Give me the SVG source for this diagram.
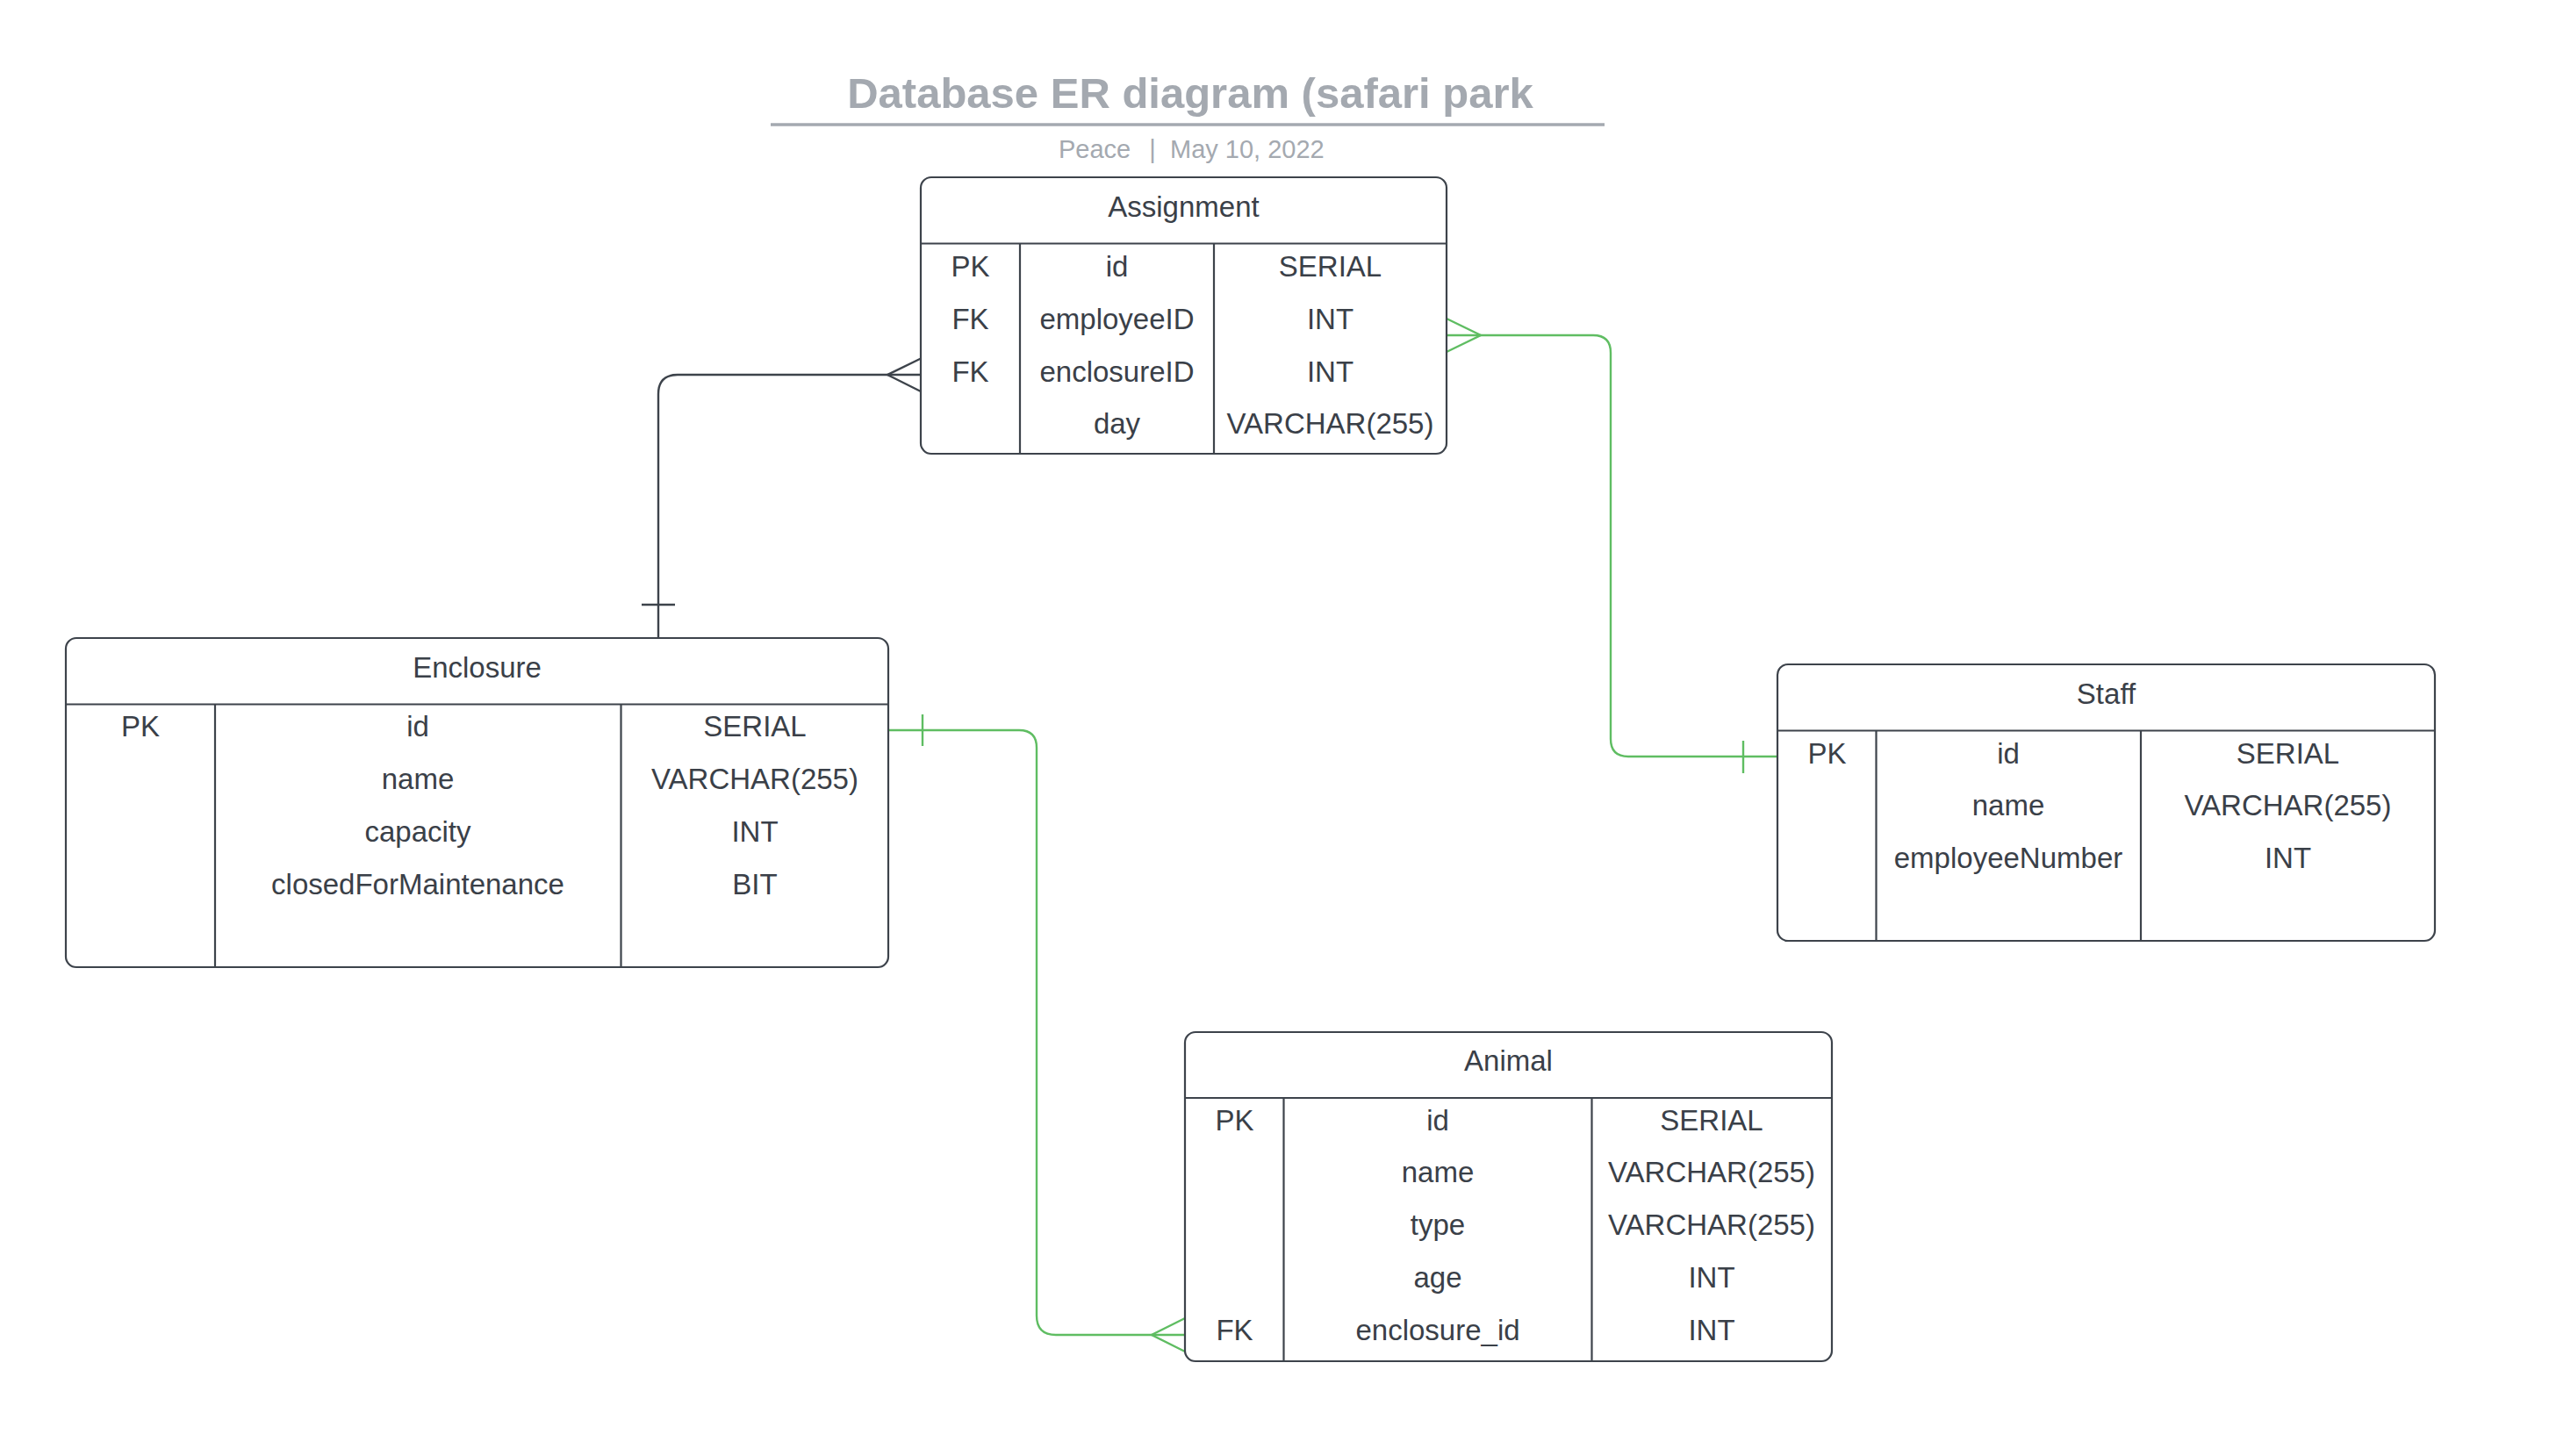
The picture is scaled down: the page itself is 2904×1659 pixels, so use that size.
<svg xmlns="http://www.w3.org/2000/svg" width="2904" height="1659" viewBox="0 0 2904 1659">
<style>
.bg{fill:#ffffff}
.box{fill:#ffffff;stroke:#3d434b;stroke-width:2.2}
.sep{stroke:#3d434b;stroke-width:2.2;fill:none}
.t{font-family:"Liberation Sans",Arial,sans-serif;font-size:33px;fill:#3a4048;text-anchor:middle}
.title{font-family:"Liberation Sans",Arial,sans-serif;font-size:49px;font-weight:bold;fill:#a4a9b0;text-anchor:middle}
.sub{font-family:"Liberation Sans",Arial,sans-serif;font-size:29px;fill:#a4a9b0}
.cb{stroke:#3d434b;stroke-width:2.4;fill:none}
.cg{stroke:#5fbd62;stroke-width:2.4;fill:none}
</style>
<rect class="bg" x="0" y="0" width="2904" height="1659"/>

<g id="title">
<text class="title" x="1356" y="123">Database ER diagram (safari park</text>
<line x1="878" y1="142" x2="1828" y2="142" stroke="#a4a9b0" stroke-width="3.5"/>
<text class="sub" x="1206" y="180">Peace</text>
<text class="sub" x="1313" y="180" text-anchor="middle">|</text>
<text class="sub" x="1333" y="180">May 10, 2022</text>
</g>

<g id="connectors">
<!-- Assignment to Enclosure (black) -->
<path class="cb" d="M1049,427 L772,427 Q750,427 750,449 L750,727"/>
<path class="cb" d="M1049,408.5 L1011,427 L1049,446"/>
<line class="cb" x1="731" y1="689" x2="769" y2="689"/>
<!-- Assignment to Staff (green) -->
<path class="cg" d="M1648,382 L1815,382 Q1835,382 1835,402 L1835,842 Q1835,862 1855,862 L2025,862"/>
<path class="cg" d="M1648,363 L1687,382 L1648,401"/>
<line class="cg" x1="1986" y1="844" x2="1986" y2="881"/>
<!-- Enclosure to Animal (green) -->
<path class="cg" d="M1012,832 L1161,832 Q1181,832 1181,852 L1181,1499 Q1181,1521 1203,1521 L1350,1521"/>
<path class="cg" d="M1350,1502 L1312,1521 L1350,1540"/>
<line class="cg" x1="1051" y1="814" x2="1051" y2="850"/>
</g>

<g id="assignment">
<rect class="box" x="1049" y="202" width="599" height="315" rx="12"/>
<line class="sep" x1="1049" y1="277.5" x2="1648" y2="277.5"/>
<line class="sep" x1="1162" y1="277.5" x2="1162" y2="517"/>
<line class="sep" x1="1383" y1="277.5" x2="1383" y2="517"/>
<text class="t" x="1348.5" y="247">Assignment</text>
<text class="t" x="1105.5" y="315">PK</text>
<text class="t" x="1272.5" y="315">id</text>
<text class="t" x="1515.5" y="315">SERIAL</text>
<text class="t" x="1105.5" y="375">FK</text>
<text class="t" x="1272.5" y="375">employeeID</text>
<text class="t" x="1515.5" y="375">INT</text>
<text class="t" x="1105.5" y="435">FK</text>
<text class="t" x="1272.5" y="435">enclosureID</text>
<text class="t" x="1515.5" y="435">INT</text>
<text class="t" x="1272.5" y="494">day</text>
<text class="t" x="1515.5" y="494">VARCHAR(255)</text>
</g>

<g id="enclosure">
<rect class="box" x="75" y="727" width="937" height="375" rx="12"/>
<line class="sep" x1="75" y1="802.5" x2="1012" y2="802.5"/>
<line class="sep" x1="245" y1="802.5" x2="245" y2="1102"/>
<line class="sep" x1="707.5" y1="802.5" x2="707.5" y2="1102"/>
<text class="t" x="543.5" y="772">Enclosure</text>
<text class="t" x="160" y="838.5">PK</text>
<text class="t" x="476" y="838.5">id</text>
<text class="t" x="860" y="838.5">SERIAL</text>
<text class="t" x="476" y="899">name</text>
<text class="t" x="860" y="899">VARCHAR(255)</text>
<text class="t" x="476" y="958.5">capacity</text>
<text class="t" x="860" y="958.5">INT</text>
<text class="t" x="476" y="1019">closedForMaintenance</text>
<text class="t" x="860" y="1019">BIT</text>
</g>

<g id="staff">
<rect class="box" x="2025" y="757" width="749" height="315" rx="12"/>
<line class="sep" x1="2025" y1="832.5" x2="2774" y2="832.5"/>
<line class="sep" x1="2137.5" y1="832.5" x2="2137.5" y2="1072"/>
<line class="sep" x1="2439" y1="832.5" x2="2439" y2="1072"/>
<text class="t" x="2399.5" y="802">Staff</text>
<text class="t" x="2081.5" y="869.5">PK</text>
<text class="t" x="2288" y="869.5">id</text>
<text class="t" x="2606.5" y="869.5">SERIAL</text>
<text class="t" x="2288" y="929">name</text>
<text class="t" x="2606.5" y="929">VARCHAR(255)</text>
<text class="t" x="2288" y="988.5">employeeNumber</text>
<text class="t" x="2606.5" y="988.5">INT</text>
</g>

<g id="animal">
<rect class="box" x="1350" y="1176" width="737" height="375" rx="12"/>
<line class="sep" x1="1350" y1="1251" x2="2087" y2="1251"/>
<line class="sep" x1="1462.5" y1="1251" x2="1462.5" y2="1551"/>
<line class="sep" x1="1813.5" y1="1251" x2="1813.5" y2="1551"/>
<text class="t" x="1718.5" y="1220">Animal</text>
<text class="t" x="1406.5" y="1287.5">PK</text>
<text class="t" x="1638" y="1287.5">id</text>
<text class="t" x="1950" y="1287.5">SERIAL</text>
<text class="t" x="1638" y="1347">name</text>
<text class="t" x="1950" y="1347">VARCHAR(255)</text>
<text class="t" x="1638" y="1407">type</text>
<text class="t" x="1950" y="1407">VARCHAR(255)</text>
<text class="t" x="1638" y="1467">age</text>
<text class="t" x="1950" y="1467">INT</text>
<text class="t" x="1406.5" y="1527">FK</text>
<text class="t" x="1638" y="1527">enclosure_id</text>
<text class="t" x="1950" y="1527">INT</text>
</g>
</svg>
